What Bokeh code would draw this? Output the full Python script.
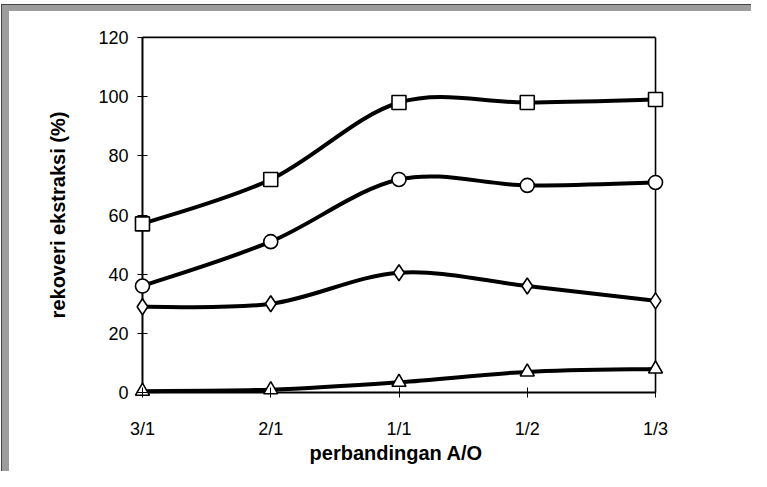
from bokeh.plotting import figure
from bokeh.models import FixedTicker
from bokeh.embed import file_html
from bokeh.resources import INLINE

# ---- data ----
ratios = ["3/1", "2/1", "1/1", "1/2", "1/3"]
x_pos = [0, 1, 2, 3, 4]
square_vals = [57, 72, 98, 98, 99]
circle_vals = [36, 51, 72, 70, 71]
diamond_vals = [29, 30, 40.5, 36, 31]
triangle_vals = [0.5, 1, 3.5, 7, 8]
y_ticks = [0, 20, 40, 60, 80, 100, 120]

FONT = "Liberation Sans"
X_PAD = 0.07
Y_PAD = 3

p = figure(width=751, height=471, output_backend="svg", toolbar_location=None,
           x_range=(x_pos[0] - X_PAD, x_pos[-1] + X_PAD),
           y_range=(y_ticks[0] - Y_PAD, y_ticks[-1] + Y_PAD),
           min_border_left=133, min_border_right=87,
           min_border_top=28, min_border_bottom=70)
p.grid.visible = False
p.outline_line_color = None
p.background_fill_color = "white"
p.border_fill_color = None

# scanned grey border along the top and left of the page
band = "linear-gradient(#9d9d9d,#9d9d9d)"
dark = "linear-gradient(#444444,#444444)"
p.styles = {
    "background": ", ".join([
        f"{dark} 1px 4px / 1px calc(100% - 4px) no-repeat",
        f"{dark} 1px 4px / calc(100% - 1px) 1px no-repeat",
        f"{band} 1px 4px / 8px calc(100% - 4px) no-repeat",
        f"{band} 1px 4px / calc(100% - 1px) 7px no-repeat",
        "white",
    ])
}

# frame: axis lines (left, bottom) and top / right lines
p.segment(x0=[x_pos[0], x_pos[0]], y0=[y_ticks[0], y_ticks[0]],
          x1=[x_pos[0], x_pos[-1]], y1=[y_ticks[-1], y_ticks[0]],
          line_color="black", line_width=2)
p.segment(x0=[x_pos[0], x_pos[-1]], y0=[y_ticks[-1], y_ticks[0]],
          x1=[x_pos[-1], x_pos[-1]], y1=[y_ticks[-1], y_ticks[-1]],
          line_color="black", line_width=1.6)


def bezier_segments(xs, ys, t=1.0 / 6.0):
    n = len(xs)
    segs = dict(x0=[], y0=[], x1=[], y1=[], cx0=[], cy0=[], cx1=[], cy1=[])
    for i in range(n - 1):
        i0 = max(i - 1, 0)
        i3 = min(i + 2, n - 1)
        segs["x0"].append(xs[i]); segs["y0"].append(ys[i])
        segs["x1"].append(xs[i + 1]); segs["y1"].append(ys[i + 1])
        segs["cx0"].append(xs[i] + (xs[i + 1] - xs[i0]) * t)
        segs["cy0"].append(ys[i] + (ys[i + 1] - ys[i0]) * t)
        segs["cx1"].append(xs[i + 1] - (xs[i3] - xs[i]) * t)
        segs["cy1"].append(ys[i + 1] - (ys[i3] - ys[i]) * t)
    return segs


series = [
    (square_vals, "square", 14),
    (circle_vals, "circle", 14),
    (diamond_vals, "diamond", 16),
    (triangle_vals, "triangle", 14),
]
for vals, marker, size in series:
    s = bezier_segments(x_pos, vals)
    p.bezier(x0=s["x0"], y0=s["y0"], x1=s["x1"], y1=s["y1"],
             cx0=s["cx0"], cy0=s["cy0"], cx1=s["cx1"], cy1=s["cy1"],
             line_color="black", line_width=4)

# axes at the frame edges; ticks shifted inward to cross the drawn axis lines
p.xaxis.ticker = FixedTicker(ticks=x_pos)
p.xaxis.major_label_overrides = {x: r for x, r in zip(x_pos, ratios)}
p.yaxis.ticker = FixedTicker(ticks=y_ticks)
for ax in (p.xaxis[0], p.yaxis[0]):
    ax.axis_line_color = None
    ax.major_tick_line_color = "black"
    ax.major_tick_line_width = 1
    ax.major_tick_in = 14
    ax.major_tick_out = -4
    ax.minor_tick_line_color = None
    ax.major_label_text_font = FONT
    ax.major_label_text_font_size = "18px"
    ax.major_label_text_color = "black"
    ax.axis_label_text_font = FONT
    ax.axis_label_text_font_size = "20px"
    ax.axis_label_text_font_style = "bold"
    ax.axis_label_text_color = "black"

p.xaxis.axis_label = "perbandingan  A/O"
p.xaxis.major_label_standoff = 17
p.xaxis.axis_label_standoff = 0
p.yaxis.axis_label = "rekoveri ekstraksi (%)"
p.yaxis.major_label_standoff = 5
p.yaxis.axis_label_standoff = 26

for vals, marker, size in series:
    p.scatter(x_pos, vals, marker=marker, size=size, fill_color="white",
              line_color="black", line_width=1.6)

open("out.html", "w").write(file_html(p, INLINE))
